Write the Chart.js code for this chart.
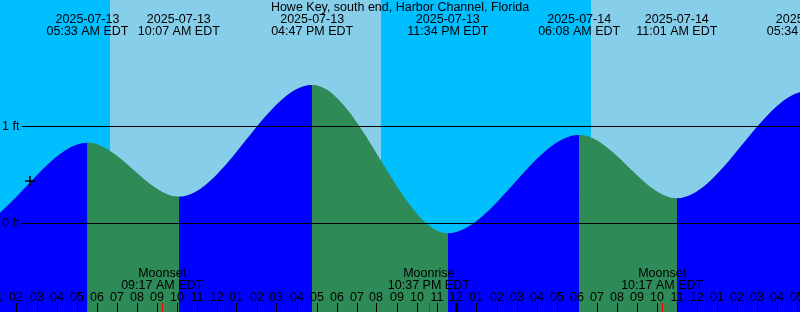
<!DOCTYPE html>
<html>
<head>
    <title>Howe Key tides</title>
    <script src="https://cdn.jsdelivr.net/npm/chart.js"></script>
    <style>
        body { margin: 0; background: #00BFFF; }
        #wrap { width: 800px; height: 312px; }
    </style>
</head>
<body>
    <div id="wrap"><canvas id="tideChart" width="800" height="312"></canvas></div>

    <script>
        // hours counted from 2025-07-13 00:00 EDT (highs and lows only)
        const tideTimes  = [-6.8, -0.5, 5.55, 10.117, 16.783, 23.567, 30.133, 35.017, 41.567, 48.3];
        const tideLevels = [1.4, -0.06, 0.828, 0.271, 1.423, -0.106, 0.907, 0.254, 1.36, -0.1];

        // high / low tide labels
        const eventTimes = [5.55, 10.117, 16.783, 23.567, 30.133, 35.017, 41.567];
        const eventDates = ['2025-07-13', '2025-07-13', '2025-07-13', '2025-07-13', '2025-07-14', '2025-07-14', '2025-07-14'];
        const eventClock = ['05:33 AM EDT', '10:07 AM EDT', '04:47 PM EDT', '11:34 PM EDT', '06:08 AM EDT', '11:01 AM EDT', '05:34 PM EDT'];

        // moon events
        const moonTimes = [9.283, 22.617, 34.283];
        const moonNames = ['Moonset', 'Moonrise', 'Moonset'];
        const moonClock = ['09:17 AM EDT', '10:37 PM EDT', '10:17 AM EDT'];

        // daylight spans (sunrise, sunset)
        const dayStarts = [6.675, 30.725];
        const dayEnds   = [20.225, 44];

        // hour ticks
        const hourTimes  = [1, 2, 3, 4, 5, 6, 7, 8, 9, 10, 11, 12, 13, 14, 15, 16, 17, 18, 19, 20, 21, 22, 23, 24, 25, 26, 27, 28, 29, 30, 31, 32, 33, 34, 35, 36, 37, 38, 39, 40, 41];
        const hourLabels = ['01', '02', '03', '04', '05', '06', '07', '08', '09', '10', '11', '12', '01', '02', '03', '04', '05', '06', '07', '08', '09', '10', '11', '12', '01', '02', '03', '04', '05', '06', '07', '08', '09', '10', '11', '12', '01', '02', '03', '04', '05'];

        const levelLines  = [1, 0];
        const levelLabels = ['1 ft', '0 ft'];

        const markTime = 2.675;
        const markLevel = 0.433;

        const title = 'Howe Key, south end, Harbor Channel, Florida';

        const FONT = '12.5px "Liberation Sans", Arial, sans-serif';
        const RISING = '#0000FF';
        const FALLING = '#2E8B57';

        // fondo día / noche
        const skyPlugin = {
            id: 'sky',
            beforeDatasetsDraw(chart) {
                const ctx = chart.ctx;
                const xs = chart.scales.x;
                const area = chart.chartArea;
                ctx.save();
                ctx.fillStyle = '#00BFFF';
                ctx.fillRect(area.left, area.top, area.right - area.left, area.bottom - area.top);
                ctx.fillStyle = '#87CEEB';
                for (let i = 0; i < dayStarts.length; i++) {
                    const a = Math.round(xs.getPixelForValue(dayStarts[i]));
                    const b = Math.round(xs.getPixelForValue(dayEnds[i]));
                    ctx.fillRect(a, area.top, b - a, area.bottom - area.top);
                }
                ctx.restore();
            }
        };

        // líneas, marcas de hora y textos
        const labelPlugin = {
            id: 'labels',
            afterDatasetsDraw(chart) {
                const ctx = chart.ctx;
                const xs = chart.scales.x;
                const ys = chart.scales.y;
                ctx.save();
                ctx.font = FONT;
                ctx.fillStyle = '#000';
                ctx.strokeStyle = '#000';
                ctx.lineWidth = 1;

                levelLines.forEach((lv, i) => {
                    const y = Math.round(ys.getPixelForValue(lv)) + 0.5;
                    ctx.beginPath();
                    ctx.moveTo(22, y);
                    ctx.lineTo(800, y);
                    ctx.stroke();
                    ctx.textAlign = 'left';
                    ctx.textBaseline = 'middle';
                    ctx.fillText(levelLabels[i], 2, y);
                });

                // hour ticks
                ctx.textAlign = 'center';
                ctx.textBaseline = 'middle';
                hourTimes.forEach((t, i) => {
                    const x = Math.round(xs.getPixelForValue(t));
                    const midnight = (t % 24) === 0;
                    ctx.fillStyle = '#000';
                    ctx.fillRect(midnight ? x - 1 : x, 303, midnight ? 3 : 1, 9);
                    ctx.fillText(hourLabels[i], x, 297.5);
                });
                ctx.fillStyle = '#FF0000';
                moonTimes.forEach(t => {
                    const x = Math.round(xs.getPixelForValue(t));
                    ctx.fillRect(x, 303, 1, 9);
                });

                ctx.fillStyle = '#000';
                ctx.fillText(title, 400, 8);
                eventTimes.forEach((t, i) => {
                    const x = xs.getPixelForValue(t);
                    ctx.fillText(eventDates[i], x, 19.5);
                    ctx.fillText(eventClock[i], x, 32);
                });
                moonTimes.forEach((t, i) => {
                    const x = xs.getPixelForValue(t);
                    ctx.fillText(moonNames[i], x, 273.5);
                    ctx.fillText(moonClock[i], x, 286);
                });
                ctx.restore();
            }
        };

        const tidePoints = tideTimes.map((t, i) => ({ x: t, y: tideLevels[i] }));

        new Chart(document.getElementById('tideChart'), {
            type: 'line',
            data: {
                datasets: [{
                    type: 'scatter',
                    data: [{ x: markTime, y: markLevel }],
                    pointStyle: 'cross',
                    pointRadius: 5,
                    borderColor: '#000',
                    backgroundColor: '#000',
                    borderWidth: 1.5,
                    order: 0
                }, {
                    data: tidePoints,
                    fill: 'start',
                    backgroundColor: RISING,
                    borderColor: 'rgba(0,0,0,0)',
                    borderWidth: 0,
                    pointRadius: 0,
                    cubicInterpolationMode: 'monotone',
                    segment: {
                        backgroundColor: c => c.p1.parsed.y >= c.p0.parsed.y ? RISING : FALLING
                    },
                    order: 1
                }, {
                    // same curve underneath, hides seams between segments
                    data: tidePoints,
                    fill: 'start',
                    backgroundColor: FALLING,
                    borderColor: 'rgba(0,0,0,0)',
                    borderWidth: 0,
                    pointRadius: 0,
                    cubicInterpolationMode: 'monotone',
                    order: 2
                }]
            },
            options: {
                responsive: false,
                animation: false,
                layout: { padding: 0, autoPadding: false },
                plugins: {
                    legend: { display: false },
                    tooltip: { enabled: false }
                },
                scales: {
                    x: { type: 'linear', min: 1.175, max: 41.175, display: false },
                    y: { min: -0.9175, max: 2.299, display: false }
                }
            },
            plugins: [skyPlugin, labelPlugin]
        });
    </script>
</body>
</html>
